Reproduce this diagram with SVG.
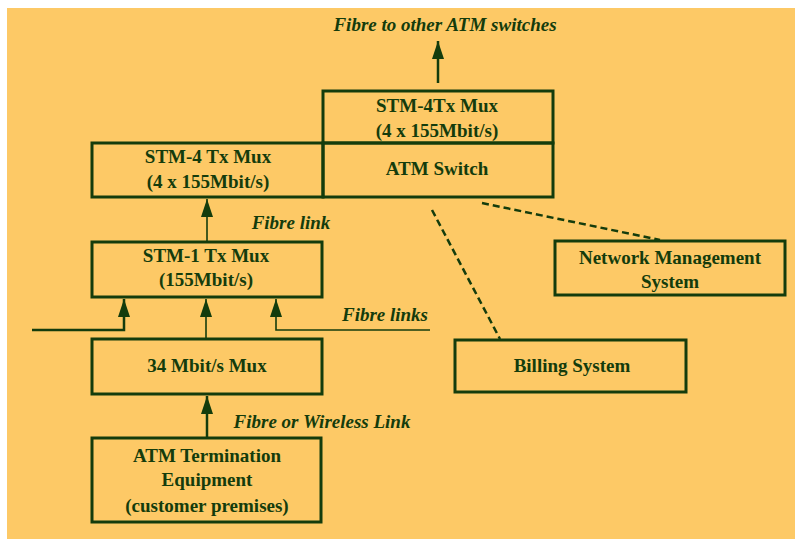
<svg xmlns="http://www.w3.org/2000/svg" width="795" height="539" viewBox="0 0 795 539">
<style>
.box{fill:none;stroke:#143c0c;stroke-width:3}
.t{font-family:"Liberation Serif","Times New Roman",serif;font-size:19px;font-weight:bold;fill:#143c0c;text-anchor:middle}
.l{font-family:"Liberation Serif","Times New Roman",serif;font-size:19px;font-weight:bold;font-style:italic;fill:#143c0c;text-anchor:middle}
.c{fill:none;stroke:#143c0c;stroke-width:2.5}
.thin{fill:none;stroke:#143c0c;stroke-width:1.6}
.d{fill:none;stroke:#143c0c;stroke-width:2.5;stroke-dasharray:7 4}
</style>
<defs>
<marker id="ah" markerUnits="userSpaceOnUse" markerWidth="20" markerHeight="14" viewBox="0 0 20 14" refX="19" refY="7" orient="auto">
<path d="M19 7 L1 1 L1 13 Z" fill="#143c0c"/>
</marker>
</defs>
<rect x="0" y="0" width="795" height="539" fill="#ffffff"/>
<rect x="7" y="8" width="788" height="531" fill="#FDC966"/>

<g id="connectors">
<line class="c" x1="438" y1="83" x2="438" y2="41" marker-end="url(#ah)"/>
<line class="thin" x1="207" y1="242" x2="207" y2="199" marker-end="url(#ah)"/>
<polyline class="c" points="32,330 124,330 124,299" marker-end="url(#ah)"/>
<line class="thin" x1="206" y1="339" x2="206" y2="299" marker-end="url(#ah)"/>
<polyline class="thin" points="430,330 276,330 276,299" marker-end="url(#ah)"/>
<line class="c" x1="207" y1="438" x2="207" y2="396" marker-end="url(#ah)"/>
<line class="d" x1="432" y1="210" x2="500" y2="339"/>
<line class="d" x1="482" y1="203" x2="660" y2="240"/>
<text class="l" x="445" y="31">Fibre to other ATM switches</text>
<text class="l" x="291" y="229">Fibre link</text>
<text class="l" x="385" y="321">Fibre links</text>
<text class="l" x="322" y="428">Fibre or Wireless Link</text>
</g>

<g id="stm4-tx-mux-top">
<rect class="box" x="323" y="91" width="230" height="52"/>
<text class="t" x="437" y="112">STM-4Tx Mux</text>
<text class="t" x="437" y="137">(4 x 155Mbit/s)</text>
</g>
<g id="atm-switch">
<rect class="box" x="323" y="143" width="230" height="54"/>
<text class="t" x="437" y="175">ATM Switch</text>
</g>
<g id="stm4-tx-mux-left">
<rect class="box" x="92" y="143" width="231" height="54"/>
<text class="t" x="208" y="163">STM-4 Tx Mux</text>
<text class="t" x="208" y="188">(4 x 155Mbit/s)</text>
</g>
<g id="stm1-tx-mux">
<rect class="box" x="92" y="242" width="230" height="55"/>
<text class="t" x="206" y="262">STM-1 Tx Mux</text>
<text class="t" x="206" y="286">(155Mbit/s)</text>
</g>
<g id="mux-34">
<rect class="box" x="92" y="339" width="230" height="55"/>
<text class="t" x="207" y="372">34 Mbit/s Mux</text>
</g>
<g id="atm-termination">
<rect class="box" x="92" y="438" width="229" height="84"/>
<text class="t" x="207" y="462">ATM Termination</text>
<text class="t" x="207" y="486">Equipment</text>
<text class="t" x="207" y="512">(customer premises)</text>
</g>
<g id="network-management">
<rect class="box" x="555" y="241" width="230" height="54"/>
<text class="t" x="670" y="264">Network Management</text>
<text class="t" x="670" y="288">System</text>
</g>
<g id="billing-system">
<rect class="box" x="455" y="340" width="231" height="52"/>
<text class="t" x="572" y="372">Billing System</text>
</g>
</svg>
